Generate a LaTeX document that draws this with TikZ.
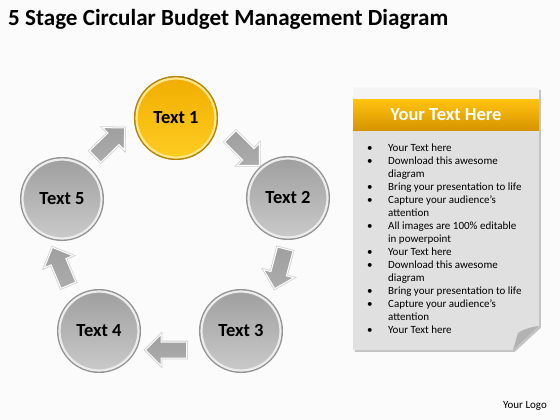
\documentclass[tikz,border=0pt]{standalone}
\usepackage{fontspec}
\setmainfont{Carlito}
\usetikzlibrary{shapes.arrows,shadows}
\definecolor{goldtop}{HTML}{F0AE00}
\definecolor{goldbot}{HTML}{FFCC22}
\definecolor{goldrim}{HTML}{B98500}
\definecolor{goldlight}{HTML}{FFE68A}
\definecolor{hdrtop}{HTML}{FFC20E}
\definecolor{hdrbot}{HTML}{D69400}
\begin{document}
\begin{tikzpicture}[x=1pt,y=-1pt,
  disk/.style={circle, minimum size=79pt, inner sep=0pt,
    top color=gray!75, bottom color=gray!42,
    preaction={draw=gray!85, line width=5pt},
    draw=gray!15, line width=2.2pt,
    font=\fontsize{18.5}{22}\selectfont\bfseries},
  golddisk/.style={disk, top color=goldtop, bottom color=goldbot,
    preaction={draw=goldrim, line width=5pt}, draw=goldlight},
  blk/.style={single arrow, minimum height=41pt, inner xsep=0pt, inner ysep=7.5pt,
    single arrow head extend=7.5pt,
    top color=gray!75, middle color=gray!25, bottom color=gray!65,
    preaction={draw=gray!35, line width=2.6pt},
    draw=white, line width=1pt},
  lst/.style={anchor=north west, inner sep=0pt, align=left,
    font=\fontsize{11}{13}\selectfont}
]
\useasboundingbox (0,0) rectangle (560,420);
\fill[gray!3] (0,0) rectangle (560,420);

% title
\node[anchor=base west, inner sep=0pt, font=\fontsize{23.1}{27}\selectfont\bfseries] (title) at (8,26)
  {5 Stage Circular Budget Management Diagram};

% arrows
\node[blk, rotate=44] (a51) at (107,145) {};
\node[blk, rotate=-45] (a12) at (242,148) {};
\node[blk, rotate=-105] (a23) at (281,265) {};
\node[blk, rotate=180] (a34) at (170,350) {};
\node[blk, rotate=113] (a45) at (62,270) {};

% stage circles
\node[golddisk] (c1) at (176,118) {Text 1};
\node[disk] (c2) at (288,198) {Text 2};
\node[disk] (c3) at (241,331) {Text 3};
\node[disk] (c4) at (99,331) {Text 4};
\node[disk] (c5) at (62,199) {Text 5};

% panel
\path[fill=gray!24,
  drop shadow={opacity=0.45, shadow xshift=1.8pt, shadow yshift=-1.8pt}]
  (353,88) -- (539,88) -- (539,326) -- (513,350) -- (353,350) -- cycle;
\fill[gray!9] (353,88) rectangle (539,100);
\fill[gray!60] (539,326) .. controls (530,327) and (522,330) .. (518,333)
  .. controls (516,339) and (515,344) .. (513,350) -- cycle;
\node[minimum width=186pt, minimum height=30pt, inner sep=0pt,
  top color=hdrtop, bottom color=hdrbot, text=white,
  font=\fontsize{18.5}{22}\selectfont\bfseries] (hdr) at (446,115) {Your Text Here};

\node[lst] (list) at (364,144) {%
\makebox[24pt][l]{\hspace{3pt}•}Your Text here\\
\makebox[24pt][l]{\hspace{3pt}•}Download this awesome\\
\hspace*{24pt}diagram\\
\makebox[24pt][l]{\hspace{3pt}•}Bring your presentation to life\\
\makebox[24pt][l]{\hspace{3pt}•}Capture your audience’s\\
\hspace*{24pt}attention\\
\makebox[24pt][l]{\hspace{3pt}•}All images are 100\% editable\\
\hspace*{24pt}in powerpoint\\
\makebox[24pt][l]{\hspace{3pt}•}Your Text here\\
\makebox[24pt][l]{\hspace{3pt}•}Download this awesome\\
\hspace*{24pt}diagram\\
\makebox[24pt][l]{\hspace{3pt}•}Bring your presentation to life\\
\makebox[24pt][l]{\hspace{3pt}•}Capture your audience’s\\
\hspace*{24pt}attention\\
\makebox[24pt][l]{\hspace{3pt}•}Your Text here};

\node[font=\fontsize{11}{13}\selectfont, inner sep=0pt] (logo) at (525,406) {Your Logo};
\end{tikzpicture}
\end{document}
